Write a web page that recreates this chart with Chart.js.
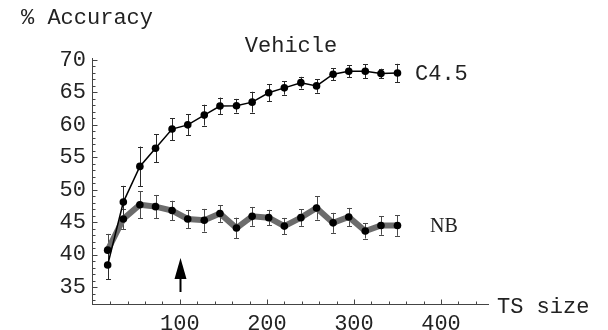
<!DOCTYPE html>
<html>
<head>
<meta charset="utf-8">
<script src="https://cdn.jsdelivr.net/npm/chart.js@4.4.1/dist/chart.umd.min.js"></script>
<style>
  html, body { margin: 0; padding: 0; background: #fff; }
  #wrap { width: 608px; height: 330px; }
</style>
</head>
<body>
<div id="wrap"><canvas id="c" width="608" height="330"></canvas></div>
<script>
// ---- data ----
const tsSize = [17, 35, 54, 72, 91, 109, 128, 146, 165, 183, 202, 220, 239, 257, 276, 294, 313, 331, 350];
const c45Acc = [38.4, 48.1, 53.6, 56.4, 59.35, 60.0, 61.5, 62.9, 62.95, 63.5, 64.95, 65.7, 66.5, 66.0, 67.8, 68.25, 68.25, 67.9, 68.0];
const c45Err = [2.2, 2.5, 3.06, 2.16, 1.7, 1.6, 1.6, 1.3, 1.05, 1.6, 1.3, 1.05, 0.9, 1.05, 0.9, 0.9, 1.08, 0.75, 1.4];
const nbAcc = [40.7, 45.5, 47.7, 47.4, 46.8, 45.5, 45.3, 46.35, 44.1, 45.9, 45.7, 44.4, 45.7, 47.2, 44.9, 45.8, 43.65, 44.5, 44.5];
const nbErr = [2.5, 1.6, 2.1, 1.8, 1.5, 1.4, 1.75, 1.3, 1.6, 1.45, 1.2, 1.26, 1.26, 1.8, 1.54, 1.4, 1.16, 1.44, 1.6];
const xTickValues = [100, 200, 300, 400];
const yTickValues = [35, 40, 45, 50, 55, 60, 65, 70];
const arrowX = 100;
const arrowY = [34.25, 39.5];   // tail, tip
const seriesNames = ['C4.5', 'NB'];
const titleText = 'Vehicle';
const yAxisTitle = '% Accuracy';
const xAxisTitle = 'TS size';

const MONO = '"Liberation Mono", "Courier New", monospace';

const ds = (xs, ys) => xs.map((x, i) => ({ x: x, y: ys[i] }));

const errorBars = {
  id: 'errorBars',
  beforeDatasetsDraw(chart) {
    const { ctx } = chart;
    const xs = chart.scales.x, ys = chart.scales.y;
    const sets = [[nbAcc, nbErr, '#4a4a4a'], [c45Acc, c45Err, '#2a2a2a']];
    ctx.save();
    ctx.lineWidth = 1;
    sets.forEach(([vals, errs, col]) => {
      ctx.strokeStyle = col;
      tsSize.forEach((t, i) => {
        const px = Math.round(xs.getPixelForValue(t)) + 0.5;
        const y1 = ys.getPixelForValue(vals[i] + errs[i]);
        const y2 = ys.getPixelForValue(vals[i] - errs[i]);
        ctx.beginPath();
        ctx.moveTo(px, y1); ctx.lineTo(px, y2);
        ctx.moveTo(px - 2.5, Math.round(y1) + 0.5); ctx.lineTo(px + 2.5, Math.round(y1) + 0.5);
        ctx.moveTo(px - 2.5, Math.round(y2) + 0.5); ctx.lineTo(px + 2.5, Math.round(y2) + 0.5);
        ctx.stroke();
      });
    });
    ctx.restore();
  }
};

const decorations = {
  id: 'decorations',
  afterDraw(chart) {
    const { ctx, chartArea } = chart;
    const xs = chart.scales.x, ys = chart.scales.y;
    ctx.save();
    // minor / major ticks pointing inward
    ctx.strokeStyle = '#444';
    ctx.lineWidth = 1;
    ctx.beginPath();
    const xl = Math.round(chartArea.left) + 0.5;
    for (let v = 33; v <= 70; v++) {
      const py = Math.round(ys.getPixelForValue(v)) + 0.5;
      const len = (v % 5 === 0) ? 5 : 3;
      ctx.moveTo(xl, py); ctx.lineTo(xl + len, py);
    }
    const yb = Math.round(chartArea.bottom) + 0.5;
    for (let v = 20; v <= 440; v += 20) {
      const px = Math.round(xs.getPixelForValue(v)) + 0.5;
      const len = (v % 100 === 0) ? 5 : 3;
      ctx.moveTo(px, yb); ctx.lineTo(px, yb - len);
    }
    ctx.stroke();

    // arrow
    const ax = Math.round(xs.getPixelForValue(arrowX)) + 0.5;
    const tail = ys.getPixelForValue(arrowY[0]);
    const tip = ys.getPixelForValue(arrowY[1]);
    ctx.strokeStyle = '#000';
    ctx.fillStyle = '#000';
    ctx.lineWidth = 2;
    ctx.beginPath();
    ctx.moveTo(ax, tail); ctx.lineTo(ax, tip + 15);
    ctx.stroke();
    ctx.beginPath();
    ctx.moveTo(ax, tip);
    ctx.lineTo(ax - 6, tip + 21);
    ctx.lineTo(ax + 6, tip + 21);
    ctx.closePath();
    ctx.fill();

    // texts
    ctx.fillStyle = '#222';
    ctx.textBaseline = 'middle';
    ctx.font = '22px ' + MONO;
    ctx.textAlign = 'left';
    ctx.fillText(yAxisTitle, 21, 18);
    ctx.textAlign = 'center';
    ctx.fillText(titleText, 291, 46);
    ctx.textAlign = 'left';
    ctx.fillText(xAxisTitle, 497, 307);
    ctx.fillText(seriesNames[0], 415, 74);
    ctx.font = '20px "Liberation Serif", "Times New Roman", serif';
    ctx.fillText(seriesNames[1], 430, 227);
    ctx.restore();
  }
};

new Chart(document.getElementById('c'), {
  type: 'line',
  data: {
    datasets: [
      {
        label: seriesNames[1],
        data: ds(tsSize, nbAcc),
        borderColor: '#6c6c6c',
        borderWidth: 6,
        pointRadius: 3.8,
        pointBackgroundColor: '#000',
        pointBorderColor: '#000',
        pointBorderWidth: 0,
        tension: 0,
        order: 2
      },
      {
        label: seriesNames[0],
        data: ds(tsSize, c45Acc),
        borderColor: '#000',
        borderWidth: 1.5,
        pointRadius: 3.8,
        pointBackgroundColor: '#000',
        pointBorderColor: '#000',
        pointBorderWidth: 0,
        tension: 0,
        order: 1
      }
    ]
  },
  options: {
    responsive: false,
    animation: false,
    devicePixelRatio: 1,
    layout: { padding: { left: 0, right: 120, top: 58, bottom: 0 } },
    plugins: { legend: { display: false }, tooltip: { enabled: false }, title: { display: false } },
    scales: {
      x: {
        type: 'linear',
        min: -1, max: 454,
        afterFit(s) { s.height = 26; },
        afterBuildTicks(s) { s.ticks = xTickValues.map(v => ({ value: v })); },
        grid: { display: false, drawTicks: false },
        border: { display: true, color: '#444', width: 1 },
        ticks: { font: { family: MONO, size: 22 }, color: '#222', padding: 7, maxRotation: 0, autoSkip: false }
      },
      y: {
        type: 'linear',
        min: 32.4, max: 70.3,
        afterFit(s) { s.width = 92; },
        afterBuildTicks(s) { s.ticks = yTickValues.map(v => ({ value: v })); },
        grid: { display: false, drawTicks: false },
        border: { display: true, color: '#444', width: 1 },
        ticks: { font: { family: MONO, size: 22 }, color: '#222', padding: 6, autoSkip: false }
      }
    }
  },
  plugins: [errorBars, decorations]
});
</script>
</body>
</html>
